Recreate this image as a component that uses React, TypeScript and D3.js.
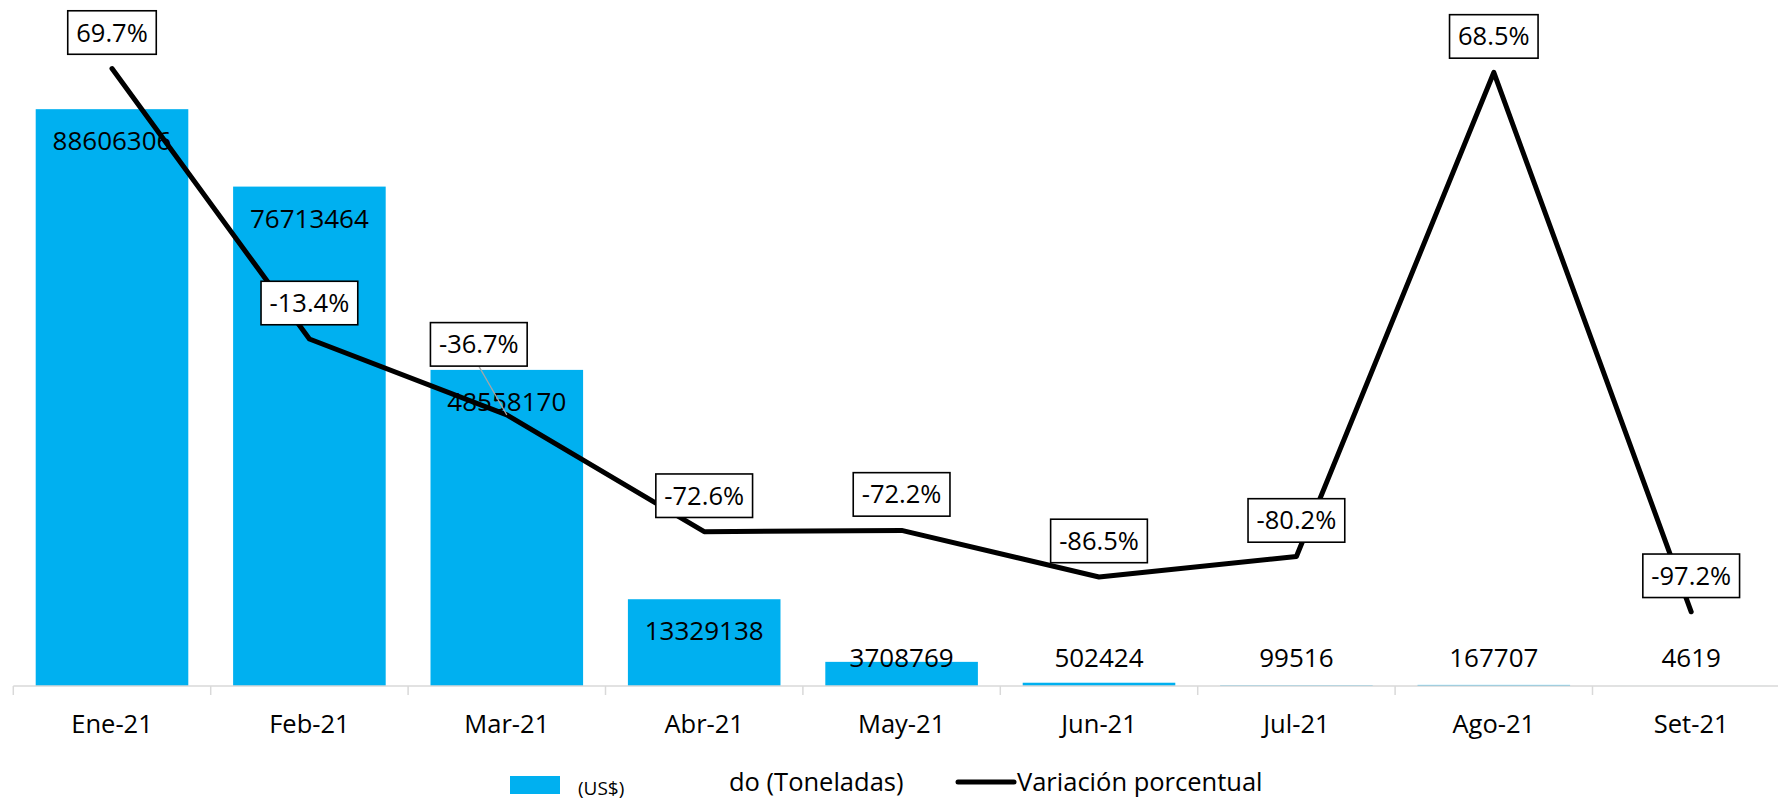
import React, { useEffect, useRef } from 'react';
import * as d3 from 'd3';

const months = ['Ene-21', 'Feb-21', 'Mar-21', 'Abr-21', 'May-21', 'Jun-21', 'Jul-21', 'Ago-21', 'Set-21'];
const volumes = [88606306, 76713464, 48558170, 13329138, 3708769, 502424, 99516, 167707, 4619];
const variation = [69.7, -13.4, -36.7, -72.6, -72.2, -86.5, -80.2, 68.5, -97.2];

const FONT = '"Open Sans", "Noto Sans", sans-serif';
const BLUE = '#00B0F0';

const App: React.FC = () => {
  const svgRef = useRef<SVGSVGElement>(null);

  useEffect(() => {
    if (!svgRef.current) return;
    const W = 1778;
    const H = 800;
    const top = 35;
    const base = 686;

    const svg = d3.select(svgRef.current).attr('width', W).attr('height', H).html('');

    const n = months.length;
    const step = 197.4;
    const x0 = 13.3;
    const x = d3.scaleBand<string>()
      .domain(months)
      .range([x0, x0 + step * n])
      .paddingInner(0.227)
      .paddingOuter(0.1135);

    const y = d3.scaleLinear().domain([0, 100000000]).range([base, top]);
    const y2 = d3.scaleLinear().domain([-120, 80]).range([base, top]);

    // bars
    svg.append('g')
      .selectAll('rect')
      .data(volumes)
      .join('rect')
      .attr('x', (_, i) => x(months[i])!)
      .attr('y', d => y(d))
      .attr('width', x.bandwidth())
      .attr('height', d => base - y(d))
      .attr('fill', BLUE);

    // axis line + ticks
    const axis = svg.append('g');
    axis.append('line')
      .attr('x1', x0).attr('x2', W)
      .attr('y1', base).attr('y2', base)
      .attr('stroke', '#d9d9d9').attr('stroke-width', 1.5);
    d3.range(n + 1).forEach(i => {
      const tx = x0 + i * x.step();
      axis.append('line')
        .attr('x1', tx).attr('x2', tx)
        .attr('y1', base).attr('y2', base + 9)
        .attr('stroke', '#d9d9d9').attr('stroke-width', 1.5);
    });
    axis.selectAll('text.tick')
      .data(months)
      .join('text')
      .attr('class', 'tick')
      .attr('x', d => x(d)! + x.bandwidth() / 2)
      .attr('y', 732.5)
      .attr('text-anchor', 'middle')
      .style('font-family', FONT)
      .style('font-size', '25.5px')
      .style('fill', '#000')
      .text(d => d);

    // bar value labels
    svg.append('g')
      .selectAll('text')
      .data(volumes)
      .join('text')
      .attr('x', (_, i) => x(months[i])! + x.bandwidth() / 2)
      .attr('y', d => Math.min(y(d) + 41, base - 19))
      .attr('text-anchor', 'middle')
      .style('font-family', FONT)
      .style('font-size', '26px')
      .style('fill', '#000')
      .text(d => String(d));

    // line
    const cx = (i: number) => x(months[i])! + x.bandwidth() / 2;
    const line = d3.line<number>()
      .x((_, i) => cx(i))
      .y(d => y2(d));
    svg.append('path')
      .datum(variation)
      .attr('d', line)
      .attr('fill', 'none')
      .attr('stroke', '#000')
      .attr('stroke-width', 5)
      .attr('stroke-linejoin', 'round')
      .attr('stroke-linecap', 'round');

    // percent labels (Mar label was dragged in the original)
    const nudge: Record<string, [number, number]> = { 'Mar-21': [-28, -34.5] };
    const lbl = svg.append('g');
    variation.forEach((v, i) => {
      const px = cx(i);
      const py = y2(v);
      const [dx, dy] = nudge[months[i]] || [0, 0];
      const bx = px + dx;
      const by = py - 36 + dy;
      const bh = 43.5;
      if (dx || dy) {
        lbl.append('line')
          .attr('x1', bx).attr('y1', by + bh / 2)
          .attr('x2', px).attr('y2', py)
          .attr('stroke', '#a6a6a6').attr('stroke-width', 1.2);
      }
      const g = lbl.append('g');
      const rect = g.append('rect');
      const t = g.append('text')
        .attr('x', bx)
        .attr('y', by + 9)
        .attr('text-anchor', 'middle')
        .style('font-family', FONT)
        .style('font-size', '25.5px')
        .style('fill', '#000')
        .text(`${v.toFixed(1)}%`);
      const tw = (t.node() as SVGTextElement).getComputedTextLength();
      const bw = tw + 17;
      rect.attr('x', bx - bw / 2).attr('y', by - bh / 2)
        .attr('width', bw).attr('height', bh)
        .attr('fill', '#fff').attr('stroke', '#000').attr('stroke-width', 1.6);
    });

    // legend
    const leg = svg.append('g');
    leg.append('rect').attr('x', 510).attr('y', 776).attr('width', 50).attr('height', 18).attr('fill', BLUE);
    leg.append('text').attr('x', 578).attr('y', 795)
      .style('font-family', FONT).style('font-size', '19px').style('fill', '#000').text('(US$)');
    leg.append('text').attr('x', 729).attr('y', 791)
      .style('font-family', FONT).style('font-size', '25.5px').style('fill', '#000').text('do (Toneladas)');
    leg.append('line').attr('x1', 958).attr('x2', 1014).attr('y1', 782).attr('y2', 782)
      .attr('stroke', '#000').attr('stroke-width', 5).attr('stroke-linecap', 'round');
    leg.append('text').attr('x', 1017).attr('y', 791)
      .style('font-family', FONT).style('font-size', '25.5px').style('fill', '#000').text('Variación porcentual');
  }, []);

  return (
    <div style={{ position: 'absolute', left: 0, top: 0, width: 1778, height: 800, overflow: 'hidden', background: '#fff' }}>
      <svg ref={svgRef} style={{ display: 'block' }} />
    </div>
  );
};

export default App;
